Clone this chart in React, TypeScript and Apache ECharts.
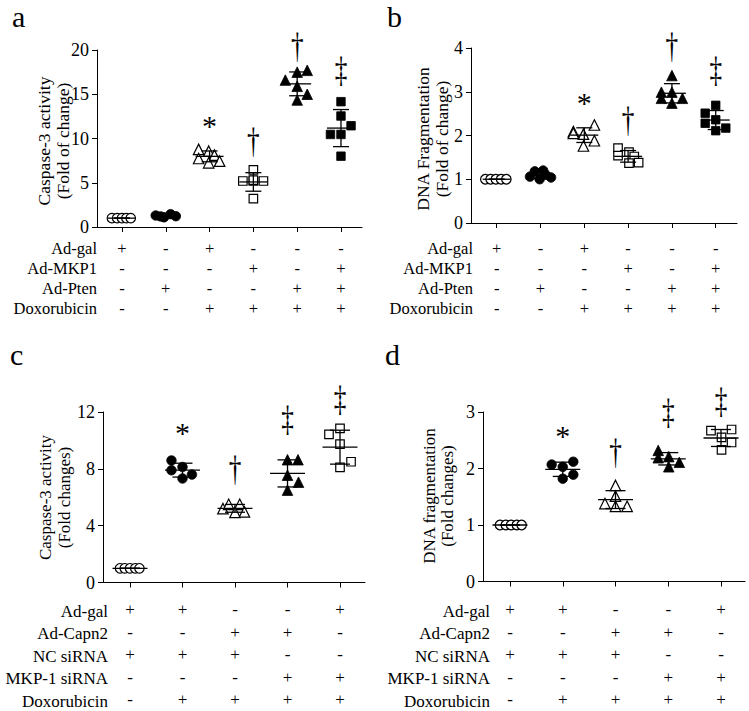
import React, { useEffect, useRef } from "react";
import * as echarts from "echarts";

const FONT = "Liberation Serif";

// ---------- Panel a: Caspase-3 activity ----------
const aTitle = ["Caspase-3 activity", "(Fold of change)"];
const aRowNames = ["Ad-gal", "Ad-MKP1", "Ad-Pten", "Doxorubicin"];
const aRowSigns = [
  ["+", "-", "+", "-", "-", "-"],
  ["-", "-", "-", "+", "-", "+"],
  ["-", "+", "-", "-", "+", "+"],
  ["-", "-", "+", "+", "+", "+"],
];
const aValues = [
  [1, 1, 1, 1, 1],
  [1.3, 1.1, 1.45, 1.22, 1.2],
  [8.77, 8.57, 8.12, 7.74, 7.25, 7.44],
  [6.45, 5.2, 5.2, 5.2, 3.2, 5.3],
  [16.6, 17.5, 17.7, 15.9, 15.0, 14.35],
  [14.16, 12.54, 11.44, 10.46, 10.46, 8.0],
];
const aOffsets = [
  [-0.23, -0.11, 0, 0.1, 0.2],
  [-0.23, -0.04, 0.11, 0.23, -0.12],
  [-0.25, -0.02, 0.11, -0.25, -0.02, 0.23],
  [0, -0.24, 0, 0.23, 0, 0],
  [-0.27, 0, 0.23, 0, 0.23, 0],
  [0, 0, 0.23, -0.24, 0, 0],
];
const aSigX = [3, 4, 5, 6];
const aSigY = [12.1, 9.76, 20.5, 17.8];
const aSigText = ["*", "†", "†", "‡"];

// ---------- Panel b: DNA Fragmentation ----------
const bTitle = ["DNA Fragmentation", "(Fold of change)"];
const bRowNames = ["Ad-gal", "Ad-MKP1", "Ad-Pten", "Doxorubicin"];
const bRowSigns = aRowSigns;
const bValues = [
  [1, 1, 1, 1, 1],
  [1.06, 1.18, 1.2, 1.0, 1.04, 1.1],
  [2.09, 2.03, 2.24, 1.88, 1.76, 2.05],
  [1.71, 1.54, 1.62, 1.52, 1.37, 1.38],
  [3.37, 2.99, 2.99, 2.85, 2.85, 2.74],
  [2.51, 2.69, 2.36, 2.28, 2.17, 2.11],
];
const bOffsets = [
  [-0.26, -0.14, -0.02, 0.1, 0.22],
  [-0.24, -0.13, 0.06, -0.02, 0.24, 0.12],
  [-0.25, -0.02, 0.23, 0.23, -0.02, -0.25],
  [-0.23, -0.23, 0.02, 0.14, 0.02, 0.24],
  [0, -0.24, 0, 0.24, -0.24, 0],
  [-0.24, 0, 0, -0.24, 0.23, 0],
];
const bSigX = [3, 4, 5, 6];
const bSigY = [2.89, 2.36, 4.05, 3.5];
const bSigText = ["*", "†", "†", "‡"];

// ---------- Panel c: Caspase-3 activity ----------
const cTitle = ["Caspase-3 activity", "(Fold changes)"];
const cRowNames = ["Ad-gal", "Ad-Capn2", "NC siRNA", "MKP-1 siRNA", "Doxorubicin"];
const cRowSigns = [
  ["+", "+", "-", "-", "+"],
  ["-", "-", "+", "+", "-"],
  ["+", "+", "+", "-", "-"],
  ["-", "-", "-", "+", "+"],
  ["-", "+", "+", "+", "+"],
];
const cValues = [
  [1, 1, 1, 1, 1],
  [8.59, 7.9, 8.13, 7.6, 7.32],
  [5.2, 5.5, 5.5, 4.93, 4.97],
  [8.64, 8.64, 7.55, 7.06, 6.5],
  [10.43, 10.85, 9.74, 8.5, 8.1],
];
const cOffsets = [
  [-0.19, -0.1, 0, 0.1, 0.18],
  [-0.21, -0.21, 0, 0.18, 0],
  [-0.23, -0.12, 0.09, 0, 0.18],
  [0, 0.2, 0, 0.21, 0],
  [-0.21, 0, 0, 0.21, 0],
];
const cSigX = [2, 3, 4, 5];
const cSigY = [10.96, 8.0, 11.55, 12.9];
const cSigText = ["*", "†", "‡", "‡"];

// ---------- Panel d: DNA fragmentation ----------
const dTitle = ["DNA fragmentation", "(Fold changes)"];
const dRowNames = cRowNames;
const dRowSigns = cRowSigns;
const dValues = [
  [1, 1, 1, 1, 1],
  [2.07, 2.03, 2.12, 1.89, 1.82],
  [1.7, 1.51, 1.38, 1.33, 1.33],
  [2.32, 2.19, 2.21, 2.03, 2.11],
  [2.67, 2.69, 2.55, 2.46, 2.33],
];
const dOffsets = [
  [-0.19, -0.08, 0.02, 0.13, 0.22],
  [-0.21, 0, 0.2, 0.2, 0],
  [0, 0, -0.2, 0, 0.22],
  [-0.19, -0.19, 0.01, 0.01, 0.21],
  [-0.19, 0.2, 0.01, 0.2, 0.01],
];
const dSigX = [2, 3, 4, 5];
const dSigY = [2.69, 2.29, 3.01, 3.2];
const dSigText = ["*", "†", "‡", "‡"];

// marker styles
const abSymbols = ["circle", "circle", "triangle", "rect", "triangle", "rect"];
const abFilled = [false, true, false, false, true, true];
const cdSymbols = ["circle", "circle", "triangle", "triangle", "rect"];
const cdFilled = [false, true, false, true, false];

type Panel = {
  letter: string; letterX: number; letterY: number;
  left: number; top: number; width: number; height: number;
  xMin: number; xMax: number; yMax: number; yInterval: number;
  title: string[]; titleX: number[]; titleY: number; titleFont: number;
  rowNames: string[]; rowSigns: string[][];
  values: number[][]; offsets: number[][];
  symbols: string[]; filled: boolean[];
  sigX: number[]; sigY: number[]; sigText: string[];
  tableFont: number; lineHeight: number; labelMargin: number; rowRight: number;
  meanHalf: number; capHalf: number;
};

const panels: Panel[] = [
  {
    letter: "a", letterX: 12, letterY: 16,
    left: 97, top: 50, width: 265, height: 177,
    xMin: 0.43, xMax: 6.48, yMax: 20, yInterval: 5,
    title: aTitle, titleX: [44, 63], titleY: 141, titleFont: 17.5,
    rowNames: aRowNames, rowSigns: aRowSigns, values: aValues, offsets: aOffsets,
    symbols: abSymbols, filled: abFilled,
    sigX: aSigX, sigY: aSigY, sigText: aSigText,
    tableFont: 16.5, lineHeight: 20, labelMargin: 11, rowRight: 97,
    meanHalf: 14, capHalf: 8,
  },
  {
    letter: "b", letterX: 387, letterY: 16,
    left: 471, top: 48, width: 266, height: 175,
    xMin: 0.413, xMax: 6.486, yMax: 4, yInterval: 1,
    title: bTitle, titleX: [423, 442], titleY: 139, titleFont: 17.5,
    rowNames: bRowNames, rowSigns: bRowSigns, values: bValues, offsets: bOffsets,
    symbols: abSymbols, filled: abFilled,
    sigX: bSigX, sigY: bSigY, sigText: bSigText,
    tableFont: 16.5, lineHeight: 20, labelMargin: 15, rowRight: 473,
    meanHalf: 14, capHalf: 8,
  },
  {
    letter: "c", letterX: 10, letterY: 354,
    left: 103, top: 412, width: 262, height: 172,
    xMin: 0.486, xMax: 5.476, yMax: 12, yInterval: 4,
    title: cTitle, titleX: [45, 64], titleY: 497.5, titleFont: 17,
    rowNames: cRowNames, rowSigns: cRowSigns, values: cValues, offsets: cOffsets,
    symbols: cdSymbols, filled: cdFilled,
    sigX: cSigX, sigY: cSigY, sigText: cSigText,
    tableFont: 17, lineHeight: 22.5, labelMargin: 16, rowRight: 108,
    meanHalf: 17.5, capHalf: 10,
  },
  {
    letter: "d", letterX: 385, letterY: 354,
    left: 483, top: 412, width: 262, height: 171,
    xMin: 0.488, xMax: 5.455, yMax: 3, yInterval: 1,
    title: dTitle, titleX: [429, 447], titleY: 496, titleFont: 17,
    rowNames: dRowNames, rowSigns: dRowSigns, values: dValues, offsets: dOffsets,
    symbols: cdSymbols, filled: cdFilled,
    sigX: dSigX, sigY: dSigY, sigText: dSigText,
    tableFont: 17, lineHeight: 22.5, labelMargin: 17, rowRight: 490,
    meanHalf: 17.5, capHalf: 10,
  },
];

function meanSd(vals: number[]) {
  const n = vals.length;
  const m = vals.reduce((s, v) => s + v, 0) / n;
  const sd = n > 1 ? Math.sqrt(vals.reduce((s, v) => s + (v - m) * (v - m), 0) / (n - 1)) : 0;
  return [m, sd];
}

const symbolSizes: Record<string, number> = { circle: 9.5, triangle: 10.5, rect: 8.5 };

function buildOption() {
  const grid: any[] = [];
  const xAxis: any[] = [];
  const yAxis: any[] = [];
  const series: any[] = [];
  const graphic: any[] = [];

  panels.forEach((p, k) => {
    const cats = p.values.map((_, i) => i + 1);
    grid.push({ left: p.left, top: p.top, width: p.width, height: p.height });
    xAxis.push({
      gridIndex: k,
      type: "value",
      min: p.xMin,
      max: p.xMax,
      splitLine: { show: false },
      axisLine: { show: true, lineStyle: { color: "#000", width: 1 } },
      axisTick: { show: true, customValues: cats, length: 5, lineStyle: { color: "#000", width: 1 } },
      axisLabel: {
        show: true,
        customValues: cats,
        formatter: (v: number) => p.rowSigns.map((r) => r[Math.round(v) - 1]).join("\n"),
        fontFamily: FONT,
        fontSize: p.tableFont,
        lineHeight: p.lineHeight,
        color: "#000",
        margin: p.labelMargin,
      },
    });
    yAxis.push({
      gridIndex: k,
      type: "value",
      min: 0,
      max: p.yMax,
      interval: p.yInterval,
      splitLine: { show: false },
      axisLine: { show: true, lineStyle: { color: "#000", width: 1 } },
      axisTick: { show: true, length: 5, lineStyle: { color: "#000", width: 1 } },
      axisLabel: { fontFamily: FONT, fontSize: 18, color: "#000", margin: 8 },
    });

    p.values.forEach((vals, g) => {
      const sym = p.symbols[g];
      const filled = p.filled[g];
      series.push({
        type: "scatter",
        xAxisIndex: k,
        yAxisIndex: k,
        symbol: sym,
        symbolSize: symbolSizes[sym],
        clip: false,
        z: 2,
        itemStyle: filled
          ? { color: "#000", borderColor: "#000", borderWidth: 0.8, opacity: 1 }
          : { color: "#fff", borderColor: "#000", borderWidth: 1.2, opacity: 1 },
        data: vals.map((v, i) => [g + 1 + p.offsets[g][i], v]),
      });
    });

    // mean ± SD bars
    const stats = p.values.map((vals, g) => {
      const [m, sd] = meanSd(vals);
      return [g + 1, m, sd];
    });
    series.push({
      type: "custom",
      xAxisIndex: k,
      yAxisIndex: k,
      z: 3,
      clip: false,
      encode: { x: 0, y: 1 },
      data: stats,
      renderItem: (_params: any, api: any) => {
        const x = api.value(0);
        const m = api.value(1);
        const s = api.value(2);
        const c = api.coord([x, m]);
        const hi = api.coord([x, m + s]);
        const lo = api.coord([x, m - s]);
        const st = { stroke: "#000", lineWidth: 1.3 };
        return {
          type: "group",
          children: [
            { type: "line", shape: { x1: c[0] - p.meanHalf, y1: c[1], x2: c[0] + p.meanHalf, y2: c[1] }, style: st },
            { type: "line", shape: { x1: c[0], y1: hi[1], x2: c[0], y2: lo[1] }, style: st },
            { type: "line", shape: { x1: c[0] - p.capHalf, y1: hi[1], x2: c[0] + p.capHalf, y2: hi[1] }, style: st },
            { type: "line", shape: { x1: c[0] - p.capHalf, y1: lo[1], x2: c[0] + p.capHalf, y2: lo[1] }, style: st },
          ],
        };
      },
    });

    // significance symbols
    series.push({
      type: "custom",
      xAxisIndex: k,
      yAxisIndex: k,
      z: 4,
      clip: false,
      encode: { x: 0, y: 1 },
      data: p.sigX.map((x, i) => [x, p.sigY[i]]),
      renderItem: (params: any, api: any) => {
        const c = api.coord([api.value(0), api.value(1)]);
        const t = p.sigText[params.dataIndex];
        const isStar = t === "*";
        return {
          type: "text",
          x: c[0],
          y: c[1] + (isStar ? 6 : 0),
          scaleX: isStar ? 1 : 0.7,
          style: {
            text: t,
            fill: "#000",
            fontFamily: FONT,
            fontSize: isStar ? 30 : 36,
            align: "center",
            verticalAlign: "middle",
          },
        };
      },
    });

    // y axis title (two rotated lines)
    p.title.forEach((line, i) => {
      graphic.push({
        type: "text",
        x: p.titleX[i],
        y: p.titleY,
        rotation: Math.PI / 2,
        style: {
          text: line,
          fill: "#000",
          fontFamily: FONT,
          fontSize: p.titleFont,
          align: "center",
          verticalAlign: "middle",
        },
      });
    });

    // row names of the treatment table
    const axisY = p.top + p.height;
    p.rowNames.forEach((name, i) => {
      graphic.push({
        type: "text",
        x: p.rowRight,
        y: axisY + p.labelMargin + p.lineHeight * (i + 0.5),
        style: {
          text: name,
          fill: "#000",
          fontFamily: FONT,
          fontSize: p.tableFont,
          align: "right",
          verticalAlign: "middle",
        },
      });
    });

    // panel letter
    graphic.push({
      type: "text",
      x: p.letterX,
      y: p.letterY,
      style: {
        text: p.letter,
        fill: "#000",
        fontFamily: FONT,
        fontSize: 30,
        align: "left",
        verticalAlign: "middle",
      },
    });
  });

  return {
    animation: false,
    backgroundColor: "#fff",
    textStyle: { fontFamily: FONT },
    grid,
    xAxis,
    yAxis,
    series,
    graphic,
  };
}

export default function App() {
  const ref = useRef<HTMLDivElement>(null);
  useEffect(() => {
    document.body.style.margin = "0";
    if (!ref.current) return;
    const chart = echarts.init(ref.current, undefined, { renderer: "svg" });
    chart.setOption(buildOption() as any);
    return () => chart.dispose();
  }, []);
  return <div ref={ref} style={{ width: 749, height: 711 }} />;
}
